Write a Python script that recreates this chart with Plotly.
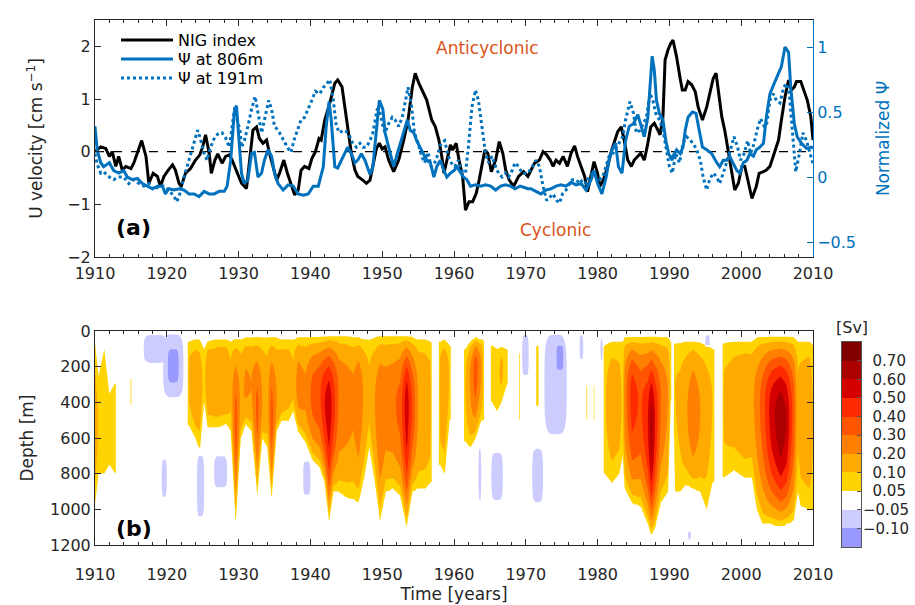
import numpy as np
import plotly.graph_objects as go

# ---------------- panel (a): time series ----------------
nig_year = [1910.0, 1910.8, 1911.5, 1912.0, 1912.4, 1912.9, 1913.3, 1913.8, 1914.3, 1915.0,
            1915.4, 1915.9, 1916.5, 1917.1, 1917.5, 1918.1, 1918.7, 1919.1, 1919.6, 1920.2,
            1920.8, 1921.2, 1921.7, 1922.0, 1922.6, 1923.3, 1924.0, 1924.6, 1925.0, 1925.4,
            1925.9, 1926.2, 1926.7, 1927.1, 1927.7, 1928.2, 1928.7, 1929.1, 1929.8, 1930.4,
            1931.1, 1931.5, 1932.0, 1932.5, 1932.9, 1933.4, 1933.9, 1934.3, 1934.8, 1935.3,
            1935.7, 1936.3, 1936.8, 1937.3, 1937.8, 1938.3, 1938.7, 1939.2, 1939.8, 1940.2,
            1940.7, 1941.2, 1941.5, 1942.0, 1942.7, 1943.4, 1943.8, 1944.4, 1944.9, 1945.2,
            1945.7, 1946.2, 1946.6, 1947.3, 1947.8, 1948.3, 1948.7, 1949.2, 1949.6, 1950.0,
            1950.4, 1950.9, 1951.6, 1952.3, 1953.0, 1953.6, 1954.2, 1954.6, 1955.1, 1955.8,
            1956.2, 1956.9, 1957.4, 1957.9, 1958.3, 1958.6, 1959.0, 1959.5, 1959.8, 1960.3,
            1960.7, 1961.2, 1961.6, 1962.1, 1962.6, 1963.1, 1963.5, 1963.9, 1964.3, 1964.7,
            1965.2, 1965.8, 1966.3, 1966.8, 1967.2, 1967.7, 1968.3, 1969.0, 1969.7, 1970.3,
            1971.2, 1971.9, 1972.4, 1972.9, 1973.4, 1973.8, 1974.2, 1974.7, 1975.2, 1975.8,
            1976.3, 1976.8, 1977.2, 1977.7, 1978.2, 1978.6, 1979.1, 1979.5, 1980.0, 1980.3,
            1980.8, 1981.4, 1981.9, 1982.3, 1982.8, 1983.3, 1983.7, 1984.2, 1984.7, 1985.1,
            1985.6, 1986.0, 1986.5, 1986.9, 1987.4, 1987.9, 1988.4, 1988.7, 1989.1, 1989.4,
            1989.8, 1990.2, 1990.5, 1991.0, 1991.5, 1991.8, 1992.2, 1992.6, 1993.1, 1993.6,
            1994.0, 1994.6, 1995.2, 1995.7, 1996.1, 1996.5, 1996.8, 1997.3, 1997.7, 1998.2,
            1998.7, 1999.1, 1999.6, 2000.1, 2000.5, 2001.0, 2001.5, 2002.1, 2002.5, 2003.1,
            2003.5, 2004.0, 2004.6, 2005.2, 2005.6, 2006.1, 2006.6, 2007.0, 2007.4, 2007.7,
            2008.3, 2008.7, 2009.2, 2009.7, 2010.0]
nig_val = [0.00, 0.09, 0.06, -0.09, 0.00, -0.28, -0.09, -0.35, -0.28, -0.32,
           -0.22, -0.03, 0.21, -0.09, -0.60, -0.41, -0.47, -0.66, -0.47, -0.35,
           -0.25, -0.35, -0.60, -0.66, -0.41, -0.32, -0.16, -0.06, 0.09, 0.32,
           -0.03, -0.41, -0.16, -0.04, -0.22, -0.09, -0.06, -0.16, -0.41, -0.60,
           -0.70, -0.16, 0.41, 0.47, 0.25, 0.16, 0.22, -0.03, -0.28, -0.54,
           -0.41, -0.16, -0.41, -0.60, -0.82, -0.73, -0.35, -0.28, -0.32, -0.13,
           0.00, 0.25, 0.22, 0.60, 0.92, 1.30, 1.36, 1.23, 0.73, 0.41,
           -0.03, -0.35, -0.47, -0.54, -0.60, -0.54, -0.28, 0.06, 0.16, 0.05,
           0.09, -0.16, -0.38, -0.16, 0.22, 0.60, 1.23, 1.49, 1.30, 1.11,
           0.98, 0.60, 0.47, 0.22, -0.09, -0.41, -0.16, 0.13, 0.03, 0.16,
           -0.16, -0.47, -1.11, -0.95, -0.95, -0.79, -0.54, -0.22, 0.03, -0.03,
           -0.38, -0.16, 0.19, -0.03, -0.35, -0.54, -0.66, -0.47, -0.38, -0.47,
           -0.22, -0.16, 0.00, -0.06, -0.16, -0.28, -0.16, -0.22, -0.09, -0.28,
           -0.03, 0.11, -0.09, -0.28, -0.47, -0.76, -0.47, -0.19, -0.41, -0.66,
           -0.54, -0.28, 0.00, 0.16, 0.38, 0.47, 0.22, -0.16, -0.28, -0.16,
           -0.09, -0.03, -0.16, 0.09, 0.47, 0.54, 0.41, 0.32, 0.66, 1.74,
           1.93, 2.06, 2.12, 1.80, 1.39, 1.17, 1.17, 1.33, 1.27, 1.14,
           0.85, 0.60, 0.85, 1.17, 1.39, 1.49, 1.17, 0.66, 0.41, -0.03,
           -0.47, -0.73, -0.60, -0.28, -0.28, -0.60, -0.89, -0.66, -0.41, -0.38,
           -0.35, -0.28, -0.03, 0.22, 0.60, 1.04, 1.36, 1.17, 1.23, 1.33,
           1.33, 1.17, 0.98, 0.66, 0.22]

psi806_year = [1910.0, 1910.3, 1910.8, 1911.2, 1912.0, 1912.6, 1913.3, 1914.0, 1914.5, 1915.2,
               1915.9, 1916.6, 1917.3, 1918.0, 1918.7, 1919.4, 1919.8, 1920.3, 1921.0, 1921.7,
               1922.4, 1923.1, 1923.8, 1924.5, 1925.2, 1925.9, 1926.6, 1927.3, 1928.0, 1928.4,
               1928.9, 1929.4, 1929.7, 1930.0, 1930.4, 1930.8, 1931.3, 1931.8, 1932.2, 1932.7,
               1933.2, 1933.6, 1934.1, 1934.6, 1935.0, 1935.5, 1936.2, 1936.9, 1937.6, 1938.3,
               1939.0, 1939.7, 1940.4, 1941.1, 1941.8, 1942.2, 1942.6, 1942.9, 1943.4, 1943.8,
               1944.3, 1944.8, 1945.2, 1945.7, 1946.2, 1946.6, 1947.1, 1947.6, 1948.3, 1948.7,
               1949.3, 1949.6, 1950.1, 1950.4, 1950.9, 1951.6, 1952.1, 1952.5, 1953.0, 1953.5,
               1953.9, 1954.4, 1954.8, 1955.3, 1955.8, 1956.2, 1956.7, 1957.2, 1957.6, 1958.1,
               1958.6, 1959.0, 1959.5, 1960.0, 1960.4, 1960.9, 1961.3, 1961.8, 1962.3, 1963.0,
               1963.7, 1964.4, 1965.1, 1965.8, 1966.5, 1967.2, 1967.9, 1968.5, 1969.2, 1970.3,
               1970.7, 1971.4, 1972.1, 1972.8, 1973.5, 1974.2, 1974.9, 1975.6, 1976.3, 1977.0,
               1977.7, 1978.4, 1979.1, 1979.5, 1980.0, 1980.6, 1981.2, 1981.6, 1982.0, 1982.5,
               1982.9, 1983.4, 1983.9, 1984.4, 1985.0, 1985.6, 1986.0, 1986.5, 1987.0, 1987.3,
               1987.6, 1987.9, 1988.2, 1988.6, 1989.1, 1989.5, 1989.9, 1990.4, 1990.5, 1991.0,
               1991.5, 1991.9, 1992.2, 1992.6, 1993.2, 1993.7, 1994.2, 1994.6, 1995.2, 1995.9,
               1996.6, 1997.0, 1997.5, 1998.0, 1998.4, 1998.9, 1999.4, 1999.8, 2000.3, 2000.8,
               2001.2, 2001.7, 2002.1, 2002.6, 2003.1, 2003.5, 2004.0, 2004.6, 2005.0, 2005.6,
               2006.1, 2006.6, 2006.9, 2007.4, 2007.8, 2008.4, 2009.1, 2009.8, 2010.0]
psi806_val = [0.39, 0.21, 0.11, 0.08, 0.11, 0.05, 0.03, 0.05, 0.00, -0.02,
              -0.01, -0.05, -0.07, -0.09, -0.07, -0.07, -0.13, -0.09, -0.10, -0.09,
              -0.10, -0.13, -0.13, -0.15, -0.11, -0.13, -0.13, -0.11, -0.11, -0.07,
              0.13, 0.50, 0.55, 0.30, 0.03, -0.05, -0.02, 0.18, 0.19, 0.00,
              0.03, 0.13, 0.21, 0.16, 0.03, -0.05, -0.10, -0.06, -0.07, -0.13,
              -0.14, -0.13, -0.07, -0.07, 0.08, 0.39, 0.58, 0.44, 0.08, 0.07,
              0.13, 0.18, 0.23, 0.18, 0.11, 0.13, 0.18, 0.13, 0.02, 0.08,
              0.44, 0.59, 0.52, 0.34, 0.23, 0.08, 0.18, 0.26, 0.36, 0.44,
              0.36, 0.34, 0.28, 0.23, 0.18, 0.13, 0.11, 0.00, 0.08, 0.13,
              0.05, 0.00, 0.03, 0.05, 0.08, 0.03, 0.00, -0.02, -0.07, -0.06,
              -0.07, -0.06, -0.07, -0.10, -0.07, -0.06, -0.07, -0.09, -0.07, -0.09,
              -0.09, -0.11, -0.13, -0.10, -0.09, -0.07, -0.06, -0.07, -0.04, -0.06,
              -0.05, -0.10, -0.02, 0.05, -0.05, -0.13, 0.00, 0.13, 0.21, 0.26,
              0.08, 0.03, 0.28, 0.39, 0.41, 0.48, 0.41, 0.31, 0.46, 0.69,
              0.93, 0.82, 0.59, 0.49, 0.44, 0.28, 0.18, 0.13, 0.16, 0.21,
              0.18, 0.23, 0.36, 0.46, 0.50, 0.49, 0.34, 0.23, 0.21, 0.18,
              0.11, 0.08, 0.13, 0.13, 0.16, 0.11, 0.05, 0.03, 0.11, 0.13,
              0.18, 0.16, 0.21, 0.23, 0.26, 0.46, 0.64, 0.72, 0.77, 0.85,
              1.00, 0.96, 0.69, 0.41, 0.31, 0.26, 0.22, 0.23, 0.22]

psi191_year = [1910.0, 1910.3, 1910.8, 1911.2, 1912.0, 1912.6, 1913.3, 1914.0, 1914.7, 1915.4,
               1916.1, 1916.8, 1917.5, 1918.2, 1918.9, 1919.6, 1920.3, 1921.0, 1921.4, 1921.8,
               1922.3, 1922.8, 1923.2, 1923.8, 1924.3, 1924.6, 1925.2, 1925.6, 1926.1, 1926.7,
               1927.3, 1927.7, 1928.2, 1928.7, 1929.1, 1929.5, 1929.8, 1930.2, 1930.4, 1930.8,
               1931.3, 1931.8, 1932.3, 1932.7, 1933.2, 1933.6, 1934.2, 1934.6, 1935.0, 1935.5,
               1936.0, 1936.4, 1936.9, 1937.3, 1937.7, 1938.2, 1938.7, 1939.2, 1939.7, 1940.2,
               1940.7, 1941.3, 1941.8, 1942.2, 1942.7, 1943.2, 1943.6, 1944.1, 1944.5, 1945.0,
               1945.5, 1945.9, 1946.4, 1946.9, 1947.3, 1947.8, 1948.3, 1948.7, 1949.3, 1949.6,
               1950.1, 1950.4, 1950.9, 1951.4, 1951.8, 1952.3, 1952.8, 1953.2, 1953.6, 1954.1,
               1954.5, 1955.0, 1955.5, 1955.9, 1956.4, 1956.8, 1957.3, 1957.8, 1958.2, 1958.7,
               1959.2, 1959.6, 1960.1, 1960.6, 1961.0, 1961.6, 1962.0, 1962.5, 1963.0, 1963.4,
               1963.9, 1964.4, 1964.8, 1965.3, 1965.8, 1966.2, 1966.7, 1967.2, 1967.6, 1968.1,
               1968.5, 1969.0, 1969.5, 1970.3, 1970.9, 1971.4, 1971.9, 1972.4, 1972.9, 1973.4,
               1973.8, 1974.3, 1974.7, 1975.1, 1975.6, 1976.1, 1976.5, 1977.0, 1977.5, 1977.9,
               1978.4, 1978.8, 1979.3, 1979.8, 1980.2, 1980.7, 1981.2, 1981.6, 1982.1, 1982.6,
               1983.0, 1983.5, 1983.9, 1984.5, 1985.0, 1985.4, 1985.9, 1986.4, 1986.8, 1987.3,
               1987.7, 1988.1, 1988.6, 1989.1, 1989.5, 1990.0, 1990.4, 1990.9, 1991.4, 1991.9,
               1992.4, 1992.9, 1993.3, 1993.8, 1994.3, 1994.7, 1995.2, 1995.6, 1996.1, 1996.6,
               1997.0, 1997.5, 1998.1, 1998.5, 1999.0, 1999.5, 1999.9, 2000.4, 2000.9, 2001.3,
               2001.8, 2002.2, 2002.7, 2003.2, 2003.5, 2004.0, 2004.5, 2004.9, 2005.4, 2005.9,
               2006.3, 2006.7, 2007.0, 2007.4, 2007.6, 2008.1, 2008.6, 2009.1, 2009.6, 2010.0]
psi191_val = [0.18, 0.10, 0.03, 0.04, 0.00, -0.02, 0.00, 0.00, -0.05, -0.02,
              -0.05, -0.07, -0.05, -0.10, -0.07, -0.07, -0.10, -0.15, -0.19, -0.13,
              -0.02, 0.08, 0.16, 0.26, 0.36, 0.31, 0.18, 0.13, 0.23, 0.31,
              0.34, 0.34, 0.30, 0.23, 0.39, 0.55, 0.44, 0.36, 0.23, 0.28,
              0.39, 0.52, 0.62, 0.49, 0.34, 0.44, 0.59, 0.52, 0.39, 0.36,
              0.31, 0.26, 0.22, 0.19, 0.28, 0.36, 0.44, 0.46, 0.52, 0.59,
              0.66, 0.64, 0.69, 0.71, 0.75, 0.59, 0.39, 0.34, 0.36, 0.35,
              0.31, 0.26, 0.23, 0.26, 0.23, 0.23, 0.28, 0.34, 0.52, 0.52,
              0.39, 0.34, 0.41, 0.46, 0.44, 0.39, 0.46, 0.57, 0.69, 0.54,
              0.34, 0.26, 0.16, 0.11, 0.19, 0.08, 0.11, 0.18, 0.26, 0.28,
              0.16, 0.11, 0.08, 0.13, 0.05, 0.03, 0.23, 0.54, 0.67, 0.59,
              0.39, 0.18, 0.11, 0.16, 0.08, 0.03, 0.00, 0.03, 0.00, 0.05,
              0.11, 0.08, 0.03, 0.03, 0.08, 0.13, 0.08, -0.07, -0.18, -0.15,
              -0.13, -0.18, -0.20, -0.13, -0.10, -0.05, -0.02, -0.02, -0.05, -0.02,
              -0.05, 0.00, 0.03, 0.00, -0.02, 0.00, 0.08, 0.16, 0.18, 0.23,
              0.26, 0.31, 0.44, 0.58, 0.49, 0.34, 0.36, 0.41, 0.46, 0.64,
              0.59, 0.49, 0.44, 0.36, 0.23, 0.08, 0.03, 0.18, 0.11, 0.26,
              0.31, 0.28, 0.26, 0.21, 0.13, 0.00, -0.10, -0.02, 0.03, 0.00,
              -0.05, 0.03, 0.13, 0.21, 0.31, 0.23, 0.13, 0.18, 0.28, 0.18,
              0.26, 0.36, 0.45, 0.39, 0.39, 0.59, 0.64, 0.59, 0.57, 0.69,
              0.72, 0.64, 0.44, 0.13, 0.04, 0.18, 0.34, 0.28, 0.18, 0.10]

# ---------------- panel (b): streamfunction section, read column by column ----------------
# for each column: year, peak value [Sv], depth of 0.05 Sv upper edge, depth of core, depth of lower edge
col_year = [1910.0, 1910.5, 1911.3, 1912.0, 1912.8, 1913.1, 1914.8, 1915.0, 1915.2, 1922.8,
            1923.1, 1924.0, 1924.6, 1925.2, 1925.7, 1927.0, 1928.3, 1928.9, 1929.6, 1930.3,
            1931.0, 1931.8, 1932.6, 1933.3, 1934.0, 1934.6, 1935.3, 1936.0, 1937.0, 1937.6,
            1938.3, 1939.3, 1940.3, 1941.3, 1942.0, 1942.6, 1943.2, 1944.0, 1945.0, 1946.0,
            1946.7, 1947.5, 1948.2, 1949.0, 1949.7, 1950.5, 1951.5, 1952.5, 1953.4, 1954.2,
            1955.0, 1956.0, 1956.7, 1957.0, 1957.8, 1958.1, 1958.7, 1959.4, 1959.7, 1961.2,
            1961.6, 1962.3, 1963.0, 1963.8, 1964.3, 1965.0, 1965.3, 1966.0, 1966.6, 1967.4,
            1967.8, 1968.9, 1969.1, 1969.3, 1971.3, 1971.6, 1972.0, 1978.3, 1978.5, 1978.7,
            1979.4, 1979.5, 1979.7, 1980.7, 1981.0, 1982.0, 1983.0, 1983.5, 1983.8, 1984.8,
            1986.0, 1987.0, 1987.5, 1988.0, 1988.8, 1989.8, 1990.2, 1990.5, 1990.8, 1991.5,
            1992.3, 1993.3, 1994.3, 1995.2, 1996.0, 1996.5, 1997.3, 1997.6, 1999.0, 2000.5,
            2001.5, 2002.2, 2003.0, 2004.2, 2005.5, 2006.3, 2007.3, 2007.9, 2008.3, 2009.5,
            2010.0]
col_peak = [0.15, 0.09, 0.08, 0.08, 0.07, 0.00, 0.00, 0.06, 0.00, 0.00,
            0.12, 0.18, 0.15, 0.07, 0.17, 0.19, 0.19, 0.12, 0.35, 0.17,
            0.22, 0.20, 0.33, 0.20, 0.15, 0.35, 0.20, 0.18, 0.16, 0.12,
            0.25, 0.22, 0.33, 0.38, 0.50, 0.57, 0.45, 0.28, 0.25, 0.22,
            0.28, 0.18, 0.12, 0.20, 0.30, 0.26, 0.28, 0.33, 0.57, 0.38,
            0.20, 0.18, 0.14, 0.00, 0.00, 0.15, 0.18, 0.09, 0.00, 0.00,
            0.10, 0.22, 0.36, 0.20, 0.00, 0.00, 0.10, 0.08, 0.12, 0.06,
            0.00, 0.00, 0.06, 0.00, 0.00, 0.09, 0.00, 0.00, 0.06, 0.00,
            0.00, 0.06, 0.00, 0.00, 0.09, 0.16, 0.14, 0.08, 0.25, 0.45,
            0.38, 0.50, 0.66, 0.50, 0.30, 0.20, 0.06, 0.00, 0.10, 0.12,
            0.18, 0.28, 0.20, 0.14, 0.10, 0.00, 0.00, 0.12, 0.15, 0.18,
            0.17, 0.25, 0.35, 0.55, 0.68, 0.60, 0.35, 0.12, 0.15, 0.18,
            0.10]
col_top = [70, 250, 100, 350, 290, 290, 260, 260, 260, 60,
           60, 50, 50, 100, 60, 50, 50, 60, 50, 50,
           40, 40, 40, 40, 40, 40, 40, 50, 50, 50,
           40, 40, 40, 40, 35, 30, 30, 30, 30, 40,
           40, 50, 50, 40, 30, 30, 30, 30, 30, 40,
           50, 50, 60, 60, 60, 60, 50, 80, 80, 100,
           100, 60, 40, 50, 50, 80, 80, 100, 90, 100,
           100, 120, 120, 120, 80, 80, 80, 300, 300, 300,
           300, 300, 300, 80, 80, 60, 60, 60, 40, 40,
           40, 40, 40, 40, 40, 40, 60, 60, 70, 70,
           60, 60, 70, 80, 100, 100, 70, 70, 60, 60,
           60, 40, 40, 40, 40, 40, 40, 60, 60, 60,
           80]
col_core = [550, 550, 550, 550, 550, 550, 340, 340, 340, 250,
            250, 300, 300, 300, 250, 250, 250, 300, 550, 400,
            300, 300, 450, 400, 400, 500, 400, 300, 250, 300,
            300, 350, 350, 350, 400, 420, 400, 350, 350, 350,
            350, 350, 350, 400, 450, 400, 400, 420, 420, 420,
            400, 400, 400, 400, 300, 300, 250, 250, 250, 300,
            300, 250, 200, 200, 200, 200, 200, 250, 200, 200,
            200, 250, 250, 250, 200, 200, 200, 350, 350, 350,
            350, 350, 350, 400, 400, 400, 400, 400, 350, 350,
            400, 500, 550, 500, 400, 350, 350, 350, 300, 400,
            450, 450, 450, 450, 400, 400, 400, 400, 350, 350,
            350, 400, 400, 450, 500, 500, 450, 400, 450, 450,
            500]
col_bot = [970, 800, 800, 750, 800, 800, 420, 420, 420, 530,
           530, 600, 670, 400, 540, 540, 520, 560, 1060, 600,
           520, 560, 910, 600, 650, 930, 560, 500, 500, 450,
           560, 620, 720, 760, 850, 1060, 900, 900, 930, 940,
           960, 820, 650, 850, 1060, 900, 880, 920, 1090, 900,
           880, 880, 850, 850, 750, 750, 800, 500, 500, 620,
           620, 650, 600, 500, 500, 400, 400, 450, 400, 300,
           300, 500, 500, 500, 420, 420, 420, 500, 500, 500,
           500, 500, 500, 800, 800, 850, 800, 700, 880, 960,
           980, 1080, 1140, 1100, 960, 900, 400, 400, 900, 900,
           860, 880, 900, 1000, 850, 850, 820, 820, 780, 820,
           820, 1000, 1080, 1080, 1090, 1080, 1060, 900, 980, 1000,
           1000]

# cyclonic (negative) patches: start year, end year, top depth, bottom depth, extreme value
neg_t0 = [1916.8, 1919.5, 1919.3, 1924.2, 1926.6, 1939.0, 1963.4, 1965.2, 1969.5, 1970.9,
          1972.6, 1974.0, 1977.5, 1980.4, 1995.0, 1992.6]
neg_t1 = [1920.0, 1922.3, 1920.0, 1925.2, 1928.4, 1940.0, 1963.8, 1966.8, 1970.4, 1972.4,
          1975.7, 1975.5, 1978.0, 1980.7, 1995.6, 1993.0]
neg_top = [20, 20, 720, 700, 700, 730, 660, 680, 20, 660, 20, 40, 20, 40, 20, 1120]
neg_bot = [180, 370, 930, 1040, 880, 920, 950, 950, 250, 960, 580, 260, 160, 170, 140, 1170]
neg_val = [-0.08, -0.12, -0.07, -0.08, -0.07, -0.08, -0.06, -0.07, -0.07, -0.07,
           -0.09, -0.13, -0.07, -0.06, -0.07, -0.06]

levels = [-0.15, -0.10, -0.05, 0.05, 0.10, 0.20, 0.30, 0.40, 0.50, 0.60, 0.70, 0.80]
level_labels = ['\u22120.10', '\u22120.05', '\u20070.05', '\u20070.10', '\u20070.20',
                '\u20070.30', '\u20070.40', '\u20070.50', '\u20070.60', '\u20070.70']
band_colors = ['#9999ff', '#ccccff', '#ffffff', '#ffd400', '#ffaa00', '#ff8000',
               '#ff5500', '#ff2b00', '#d40000', '#aa0000', '#800000']

BLUE = '#0072BD'
ORANGE = '#D95319'
AX = '#262626'
FONT = 'DejaVu Sans'

# ---------- build the gridded section from the column readings ----------
t = np.round(np.arange(1910.0, 2010.0001, 0.1), 2)
zd = np.arange(0.0, 1200.1, 15.0)
T, Z = np.meshgrid(t, zd)
pk = np.interp(t, col_year, col_peak)[None, :]
tp = np.interp(t, col_year, col_top)[None, :]
cr = np.interp(t, col_year, col_core)[None, :]
bt = np.interp(t, col_year, col_bot)[None, :]
u = np.where(Z <= cr, (cr - Z) / np.maximum(cr - tp, 1), (Z - cr) / np.maximum(bt - cr, 1))
inside = 0.05 + (pk - 0.05) * (1 - u ** 2)
outside = np.clip(0.05 - 0.2 * (u - 1), 0, None)
field = np.where(u <= 1, inside, outside)
for a0, a1, d0, d1, val in zip(neg_t0, neg_t1, neg_top, neg_bot, neg_val):
    ut = (T - (a0 + a1) / 2) / ((a1 - a0) / 2)
    uz = (Z - (d0 + d1) / 2) / ((d1 - d0) / 2)
    r = (np.abs(ut) ** 4 + np.abs(uz) ** 4) ** 0.25
    neg = np.where(r <= 1, -0.05 + (val + 0.05) * (1 - r ** 2),
                   np.where(r < 1.25, -0.05 * (1 - (r - 1) / 0.25), 0.0))
    field = np.where((neg < 0) & (field < 0.05), np.minimum(field, neg), field)
band_index = np.interp(field, levels, np.arange(len(levels)))

nb = len(band_colors)
contour_scale = [[k / (nb - 1), c] for k, c in enumerate(band_colors)]
bar_scale = []
for k, c in enumerate(band_colors):
    bar_scale += [[k / nb, c], [(k + 1) / nb, c]]

W, H = 915, 605
xd = [95 / W, 813 / W]
ytop = [1 - 257 / H, 1 - 20 / H]
ybot = [1 - 545 / H, 1 - 331 / H]

fig = go.Figure()
fig.add_trace(go.Scatter(x=[1910, 2010], y=[0, 0], mode='lines', xaxis='x', yaxis='y',
                         line=dict(color='black', width=1.3, dash='dash'), showlegend=False,
                         hoverinfo='skip'))
fig.add_trace(go.Scatter(x=nig_year, y=nig_val, mode='lines', name='NIG index', legend='legend',
                         xaxis='x', yaxis='y', line=dict(color='black', width=3)))
fig.add_trace(go.Scatter(x=psi806_year, y=psi806_val, mode='lines', name='\u03a8 at 806m',
                         legend='legend2', xaxis='x', yaxis='y2', line=dict(color=BLUE, width=3)))
fig.add_trace(go.Scatter(x=psi191_year, y=psi191_val, mode='lines', name='\u03a8 at 191m',
                         legend='legend3', xaxis='x', yaxis='y2',
                         line=dict(color=BLUE, width=3, dash='dot')))

fig.add_trace(go.Contour(
    x=t, y=zd, z=band_index, xaxis='x2', yaxis='y3', showlegend=False, showscale=False,
    autocontour=False, contours=dict(start=1, end=10, size=1, coloring='fill', showlines=False),
    line=dict(width=0), colorscale=contour_scale, hoverinfo='skip'))

# colour key: one cell per band
fig.add_trace(go.Heatmap(
    x=[0], y=list(range(nb)), z=[[k] for k in range(nb)], xaxis='x3', yaxis='y4',
    colorscale=bar_scale, zmin=-0.5, zmax=nb - 0.5, showscale=False, hoverinfo='skip'))

tick_font = dict(family=FONT, size=16, color=AX)
common_x = dict(range=[1910, 2010], tickvals=list(range(1910, 2011, 10)), ticks='inside', ticklen=6,
                tickcolor=AX, showline=True, linecolor=AX, linewidth=1, mirror='ticks',
                showgrid=False, zeroline=False, tickfont=tick_font,
                minor=dict(dtick=2, tick0=1910, ticks='inside', ticklen=3, tickcolor=AX, showgrid=False))

leg_common = dict(xanchor='left', yanchor='middle', bgcolor='rgba(0,0,0,0)',
                  font=dict(family=FONT, size=16, color='black'), itemwidth=52)

fig.update_layout(
    width=W, height=H, paper_bgcolor='white', plot_bgcolor='white',
    margin=dict(l=0, r=0, t=0, b=0, autoexpand=False),
    font=dict(family=FONT, size=16, color=AX),
    xaxis=dict(domain=xd, anchor='y', ticklabelstandoff=2, **common_x),
    yaxis=dict(domain=ytop, anchor='x', range=[-2, 2.5], tickvals=[-2, -1, 0, 1, 2], ticks='inside',
               ticklen=6, tickcolor=AX, showline=True, linecolor=AX, linewidth=1, showgrid=False,
               zeroline=False, tickfont=tick_font,
               title=dict(text='U velocity [cm s<sup>\u22121</sup>]', font=dict(family=FONT, size=17, color=AX),
                          standoff=20)),
    yaxis2=dict(overlaying='y', side='right', anchor='x', range=[-0.615, 1.208],
                tickvals=[-0.5, 0, 0.5, 1], ticks='inside', ticklen=6, tickcolor=BLUE,
                showline=True, linecolor=BLUE, linewidth=1, showgrid=False, zeroline=False,
                tickfont=dict(family=FONT, size=16, color=BLUE),
                title=dict(text='Normalized \u03a8', font=dict(family=FONT, size=17, color=BLUE), standoff=22)),
    xaxis2=dict(domain=xd, anchor='y3', ticklabelstandoff=15,
                title=dict(text='Time [years]', font=dict(family=FONT, size=17, color=AX), standoff=2),
                **common_x),
    yaxis3=dict(domain=ybot, anchor='x2', range=[1200, 0], tickvals=list(range(0, 1201, 200)),
                ticks='inside', ticklen=6, tickcolor=AX, showline=True, linecolor=AX, linewidth=1,
                mirror='ticks', showgrid=False, zeroline=False, tickfont=tick_font,
                title=dict(text='Depth [m]', font=dict(family=FONT, size=17, color=AX), standoff=12)),
    xaxis3=dict(domain=[842 / W, 861 / W], anchor='y4', range=[-0.5, 0.5], showticklabels=False,
                ticks='', showline=True, mirror=True, linecolor='#555', linewidth=1,
                showgrid=False, zeroline=False),
    yaxis4=dict(domain=[1 - 547 / H, 1 - 342 / H], anchor='x3', side='right', range=[-0.5, nb - 0.5],
                tickvals=[k + 0.5 for k in range(nb - 1)], ticktext=level_labels, ticks='inside',
                ticklen=4, tickcolor='#555', showline=True, mirror=True, linecolor='#555', linewidth=1,
                showgrid=False, zeroline=False, tickfont=dict(family=FONT, size=15, color=AX),
                ticklabelstandoff=-2),
    legend=dict(x=116 / W, y=1 - 40 / H, **leg_common),
    legend2=dict(x=116 / W, y=1 - 59 / H, **leg_common),
    legend3=dict(x=116 / W, y=1 - 78 / H, **leg_common),
    annotations=[
        dict(x=1964.6, y=1.97, xref='x', yref='y', text='Anticyclonic', showarrow=False,
             font=dict(family=FONT, size=17, color=ORANGE)),
        dict(x=1974.1, y=-1.49, xref='x', yref='y', text='Cyclonic', showarrow=False,
             font=dict(family=FONT, size=17, color=ORANGE)),
        dict(x=1915.4, y=-1.44, xref='x', yref='y', text='<b>(a)</b>', showarrow=False,
             font=dict(family=FONT, size=22, color='black')),
        dict(x=1915.4, y=1105, xref='x2', yref='y3', text='<b>(b)</b>', showarrow=False,
             font=dict(family=FONT, size=22, color='black')),
        dict(x=851.5 / W, y=1 - 328 / H, xref='paper', yref='paper', xanchor='center',
             yanchor='middle', text='[Sv]', showarrow=False,
             font=dict(family=FONT, size=16, color=AX)),
    ],
)

fig.write_html('out.html')
